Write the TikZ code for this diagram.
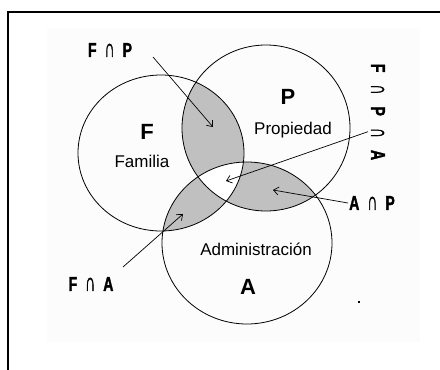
\documentclass[tikz,border=0pt]{standalone}
\usepackage{fontspec}
\setmainfont{Liberation Sans}
\newfontfamily\tagfont[FakeStretch=0.7, BoldFeatures={FakeBold=1.5}]{Liberation Sans}
\usepackage{tikz}
\usetikzlibrary{
  arrows.meta,
  positioning,
  calc
}
\definecolor{overlapgrey}{RGB}{192,192,192}
\definecolor{paper}{RGB}{252,252,252}
\newcommand{\capsym}{\scalebox{1}[1.3]{∩}}
\tikzset{
  ring/.style={draw=black, line width=0.8pt},
  setname/.style={font=\fontsize{17}{17}\selectfont, inner sep=0pt},
  setletter/.style={font=\fontsize{22}{22}\selectfont\bfseries, inner sep=0pt},
  tag/.style={font=\tagfont\fontsize{20}{20}\selectfont\bfseries, inner sep=1pt},
  pointer/.style={line width=0.7pt, -{Straight Barb[length=5pt, width=8pt]}}
}

\begin{document}
\begin{tikzpicture}[x=1pt, y=-1pt]
  \useasboundingbox (0,0) rectangle (440,370);
  % faint page and frame
  \fill[paper] (47,28) rectangle (420,342);
  \draw[line width=2pt] (8,370) -- (8,12) -- (440,12);
  % grey pairwise overlaps
  \begin{scope}
    \clip (161,153) ellipse [x radius=83, y radius=78];
    \fill[overlapgrey] (266,128) ellipse [x radius=84, y radius=83];
    \fill[overlapgrey] (247,243) ellipse [x radius=85, y radius=81];
  \end{scope}
  \begin{scope}
    \clip (266,128) ellipse [x radius=84, y radius=83];
    \fill[overlapgrey] (247,243) ellipse [x radius=85, y radius=81];
  \end{scope}
  % the centre stays white
  \begin{scope}
    \clip (161,153) ellipse [x radius=83, y radius=78];
    \clip (266,128) ellipse [x radius=84, y radius=83];
    \fill[white] (247,243) ellipse [x radius=85, y radius=81];
  \end{scope}
  % the three circles
  \draw[ring] (161,153) ellipse [x radius=83, y radius=78];
  \draw[ring] (266,128) ellipse [x radius=84, y radius=83];
  \draw[ring] (247,243) ellipse [x radius=85, y radius=81];
  % set names
  \node[setletter] (letterF) at (147,132) {F};
  \node[setname] (nameF) at (142,161) {Familia};
  \node[setletter] (letterP) at (288,97) {P};
  \node[setname] (nameP) at (293,130) {Propiedad};
  \node[setname] (nameA) at (256,249) {Administración};
  \node[setletter] (letterA) at (248,287) {A};
  % intersection tags
  \node[tag] (fp) at (110,50) {F\hspace{8pt}\capsym\hspace{8pt}P};
  \node[tag, rotate=-90] (fpa) at (378,112) {F\hspace{12pt}\capsym\hspace{12pt}P\hspace{12pt}\capsym\hspace{12pt}A};
  \node[tag] (ap) at (372,203) {A\hspace{8pt}\capsym\hspace{8pt}P};
  \node[tag] (fa) at (91,284) {F\hspace{8pt}\capsym\hspace{8pt}A};
  \coordinate (fp-tip) at (213,127);
  \coordinate (fpa-tip) at (226,181);
  \coordinate (ap-tip) at (273,190);
  \coordinate (fa-tip) at (183,214);
  % pointers
  \draw[pointer] ([xshift=-2pt]$(fpa.south west)!0.7!(fpa.south east)$) -- (fpa-tip);
  \draw[pointer] (153,57) -- (fp-tip);
  \draw[pointer] (ap.west) -- (ap-tip);
  \draw[pointer] (123,267) -- (fa-tip);
  % stray dot
  \fill (358,301) rectangle (360,303);
\end{tikzpicture}
\end{document}
